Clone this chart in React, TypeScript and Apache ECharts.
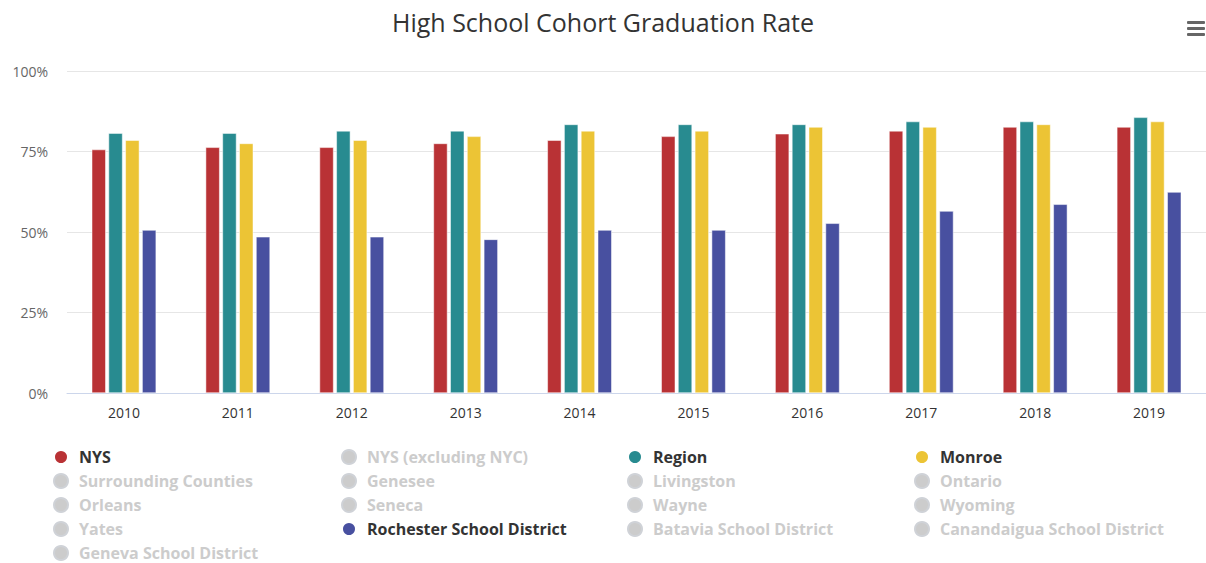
import React, { useEffect, useRef } from "react";
import * as echarts from "echarts";

const years = ["2010", "2011", "2012", "2013", "2014", "2015", "2016", "2017", "2018", "2019"];
const nys = [75.6, 76.3, 76.3, 77.5, 78.5, 79.7, 80.5, 81.4, 82.6, 82.6];
const region = [80.7, 80.7, 81.4, 81.4, 83.4, 83.4, 83.4, 84.3, 84.3, 85.6];
const monroe = [78.5, 77.5, 78.5, 79.7, 81.4, 81.4, 82.6, 82.6, 83.4, 84.3];
const rochester = [50.6, 48.5, 48.5, 47.7, 50.6, 50.6, 52.7, 56.5, 58.6, 62.4];
const yTicks = [0, 25, 50, 75, 100];

const legendColumns = [
  ["NYS", "Surrounding Counties", "Orleans", "Yates", "Geneva School District"],
  ["NYS (excluding NYC)", "Genesee", "Seneca", "Rochester School District"],
  ["Region", "Livingston", "Wayne", "Batavia School District"],
  ["Monroe", "Ontario", "Wyoming", "Canandaigua School District"],
];
const seriesOrder = [
  "NYS", "NYS (excluding NYC)", "Region", "Monroe",
  "Surrounding Counties", "Genesee", "Livingston", "Ontario",
  "Orleans", "Seneca", "Wayne", "Wyoming",
  "Yates", "Rochester School District", "Batavia School District", "Canandaigua School District",
  "Geneva School District",
];
const seriesData: Record<string, number[]> = {
  "NYS": nys,
  "Region": region,
  "Monroe": monroe,
  "Rochester School District": rochester,
};
const seriesColors: Record<string, string> = {
  "NYS": "#b93235",
  "Region": "#288b90",
  "Monroe": "#ecc435",
  "Rochester School District": "#4850a0",
};

export default function App() {
  const ref = useRef<HTMLDivElement>(null);
  useEffect(() => {
    if (!ref.current) return;
    const chart = echarts.init(ref.current, undefined, { renderer: "svg" });
    const selected: Record<string, boolean> = {};
    seriesOrder.forEach((n) => (selected[n] = !!seriesData[n]));
    const legendX = [53, 341, 627, 914];
    const font = "'Open Sans', sans-serif";
    chart.setOption({
      animation: false,
      backgroundColor: "#ffffff",
      title: {
        text: "High School Cohort Graduation Rate",
        left: "center",
        top: 9,
        padding: 0,
        textStyle: { fontFamily: font, fontSize: 25, fontWeight: "normal", color: "#333333" },
      },
      grid: { left: 67, top: 71, width: 1146, height: 322, containLabel: false },
      xAxis: {
        type: "category",
        data: years,
        axisLine: { lineStyle: { color: "#ccd6eb" } },
        axisTick: { length: 8, lineStyle: { color: "#ccd6eb" } },
        axisLabel: { color: "#333333", fontSize: 14, fontFamily: font, margin: 12 },
      },
      yAxis: {
        type: "value",
        min: yTicks[0],
        max: yTicks[yTicks.length - 1],
        interval: 25,
        axisLine: { show: false },
        axisTick: { show: false },
        splitLine: { lineStyle: { color: "#e6e6e6" } },
        axisLabel: { formatter: "{value}%", color: "#666666", fontSize: 14, fontFamily: font, margin: 19 },
      },
      legend: legendColumns.map((col, i) => ({
        orient: "vertical",
        left: legendX[i],
        top: 449,
        height: 130,
        padding: 0,
        data: col,
        selected,
        icon: "circle",
        itemWidth: 14,
        itemHeight: 14,
        itemGap: 8,
        inactiveColor: "#cccccc",
        textStyle: {
          fontFamily: font,
          fontSize: 16,
          fontWeight: "bold",
          color: "#333333",
          padding: [0, 0, 0, 6],
        },
      })),
      graphic: [
        { type: "rect", shape: { x: 1187, y: 21, width: 18, height: 3, r: 1 }, style: { fill: "#666666" } },
        { type: "rect", shape: { x: 1187, y: 27, width: 18, height: 3, r: 1 }, style: { fill: "#666666" } },
        { type: "rect", shape: { x: 1187, y: 33, width: 18, height: 3, r: 1 }, style: { fill: "#666666" } },
      ],
      series: seriesOrder.map((name) => ({
        name,
        type: "bar",
        data: seriesData[name] || [],
        barWidth: 14,
        barGap: "20%",
        barCategoryGap: "43%",
        itemStyle: { color: seriesColors[name] || "#cccccc", borderColor: "#ffffff", borderWidth: 0.5 },
      })),
    });
    return () => chart.dispose();
  }, []);
  return <div ref={ref} style={{ position: "fixed", left: 0, top: 0, width: 1206, height: 563 }} />;
}
